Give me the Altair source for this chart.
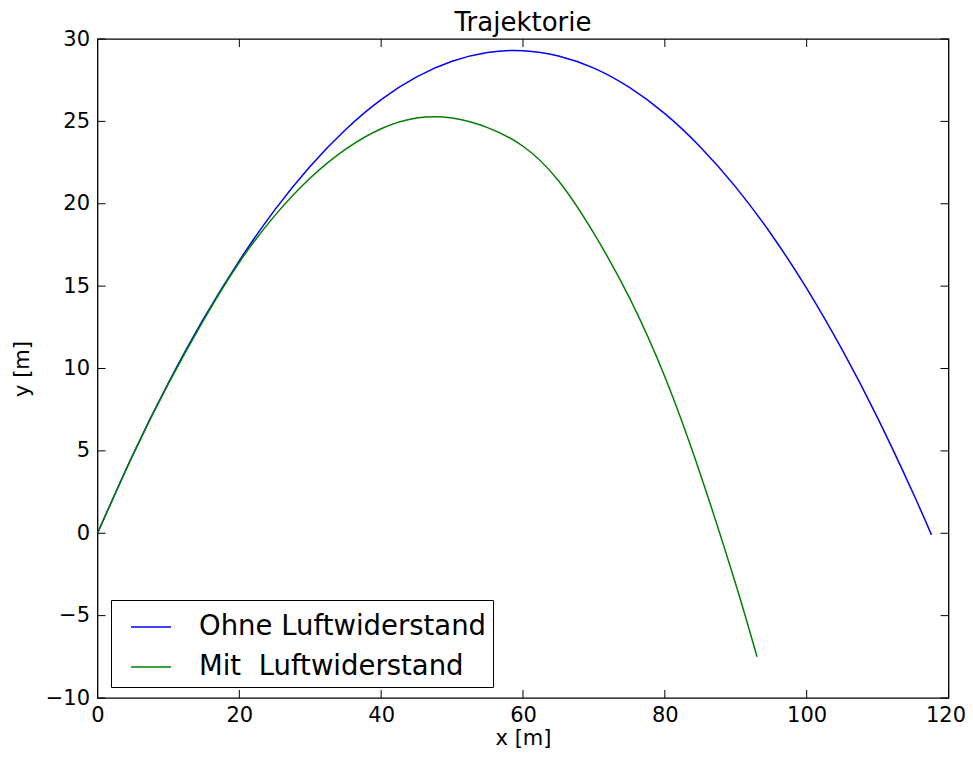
import altair as alt
import pandas as pd

# --- data ---
x_ohne = [0, 5, 10, 15, 20, 25, 30, 35, 40, 45, 50, 55, 60, 65, 70, 75, 80, 85, 90, 95, 100, 105, 110, 115, 117.6]
y_ohne = [0, 4.78, 9.13, 13.05, 16.55, 19.63, 22.28, 24.51, 26.32, 27.70, 28.65, 29.18, 29.29, 28.97, 28.23, 27.06,
          25.47, 23.45, 21.01, 18.15, 14.86, 11.14, 7.00, 2.44, -0.1]

x_mit = [0, 5, 10, 15, 20, 25, 30, 35, 40, 45, 50, 55, 60, 65, 70, 75, 80, 85, 90, 93]
y_mit = [0, 4.76, 9.08, 12.97, 16.45, 19.28, 21.56, 23.31, 24.55, 25.2, 25.2, 24.62, 23.49, 21.4, 18.2,
         14.3, 9.5, 3.6, -3.1, -7.5]

series_names = ["Ohne Luftwiderstand", "Mit\u00a0 Luftwiderstand"]
series_colors = ["#0000ff", "#008000"]

x_ticks = [0, 20, 40, 60, 80, 100, 120]
y_ticks = [-10, -5, 0, 5, 10, 15, 20, 25, 30]

W, H = 851, 659
FONT = "DejaVu Sans"

rows = []
for i, (x, y) in enumerate(zip(x_ohne, y_ohne)):
    rows.append({"x": x, "y": y, "serie": series_names[0], "o": i})
for i, (x, y) in enumerate(zip(x_mit, y_mit)):
    rows.append({"x": x, "y": y, "serie": series_names[1], "o": i})
df = pd.DataFrame(rows)

xscale = alt.Scale(domain=[0, 120], nice=False, zero=False)
yscale = alt.Scale(domain=[-10, 30], nice=False, zero=False)

minus = "replace(datum.label, '-', '\u2212')"
xaxis = alt.Axis(values=x_ticks, title="x [m]", labelPadding=6, titlePadding=2, labelExpr=minus,
                 labelFlush=False, labelOverlap=False,
                 labelOffset={"condition": {"test": "datum.value === 120", "value": -3}, "value": 0})
yaxis = alt.Axis(values=y_ticks, title="y [m]", labelPadding=8, titlePadding=13, labelExpr=minus,
                 labelFlush=False, labelOverlap=False)

lines = alt.Chart(df).mark_line(strokeWidth=1.5, interpolate="natural").encode(
    x=alt.X("x:Q", scale=xscale, axis=xaxis),
    y=alt.Y("y:Q", scale=yscale, axis=yaxis),
    color=alt.Color("serie:N", scale=alt.Scale(domain=series_names, range=series_colors),
                    legend=alt.Legend(title=None, orient="none", legendX=13.5, legendY=561,
                                      symbolType="stroke", symbolSize=1600, symbolStrokeWidth=1.5,
                                      symbolOffset=13, labelLimit=0,
                                      labelFontSize=27.5, labelFont=FONT, labelColor="black",
                                      labelOffset=27, padding=6, rowPadding=5,
                                      strokeColor="black")),
    order="o:Q",
)

xt = pd.DataFrame({"v": x_ticks})
yt = pd.DataFrame({"v": y_ticks})

xtick_bottom = alt.Chart(xt).mark_rule(color="black", strokeWidth=1).encode(
    x=alt.X("v:Q", scale=xscale, axis=xaxis), y=alt.value(H), y2=alt.value(H - 8))
xtick_top = alt.Chart(xt).mark_rule(color="black", strokeWidth=1).encode(
    x=alt.X("v:Q", scale=xscale, axis=xaxis), y=alt.value(0), y2=alt.value(8))
ytick_left = alt.Chart(yt).mark_rule(color="black", strokeWidth=1).encode(
    y=alt.Y("v:Q", scale=yscale, axis=yaxis), x=alt.value(0), x2=alt.value(8))
ytick_right = alt.Chart(yt).mark_rule(color="black", strokeWidth=1).encode(
    y=alt.Y("v:Q", scale=yscale, axis=yaxis), x=alt.value(W), x2=alt.value(W - 8))

chart = alt.layer(lines, xtick_bottom, xtick_top, ytick_left, ytick_right).properties(
    width=W, height=H,
    title=alt.Title("Trajektorie", fontSize=26, font=FONT, fontWeight="normal", color="black",
                    offset=-8, frame="group"),
    autosize="none",
    background="white",
    padding={"left": 89.5, "top": 31, "right": 16.5, "bottom": 52},
).configure_view(
    stroke="black", strokeWidth=1.3
).configure_axis(
    grid=False, domain=False, ticks=False,
    labelFont=FONT, labelFontSize=21, labelColor="black",
    titleFont=FONT, titleFontSize=21, titleFontWeight="normal", titleColor="black",
)

chart.save("out.html", embed_options={"renderer": "svg", "actions": False})
